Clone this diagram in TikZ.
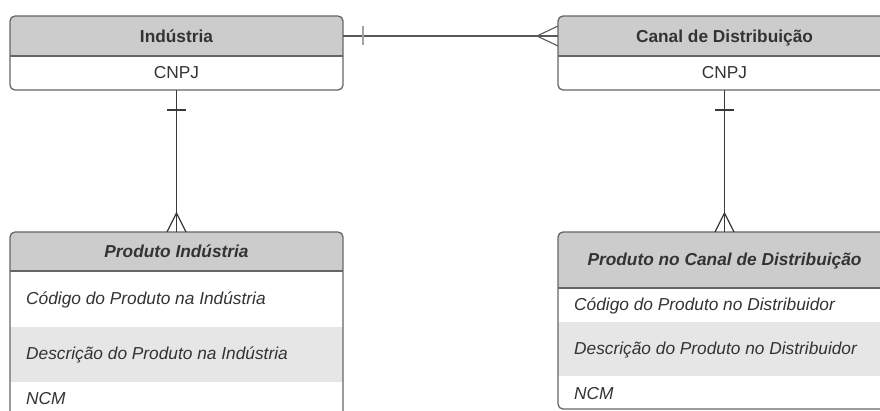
\documentclass[tikz,border=0pt]{standalone}
\usepackage{fontspec}
\setmainfont{Liberation Sans}
\usetikzlibrary{calc}
\definecolor{txt}{HTML}{333333}
\definecolor{hdrfill}{HTML}{CCCCCC}
\definecolor{stripe}{HTML}{E6E6E6}
\definecolor{frame}{HTML}{666666}
\definecolor{conn}{HTML}{3A3A3A}
\tikzset{
  boxframe/.style={draw=frame, line width=1.3pt, rounded corners=5pt, anchor=north west, inner sep=0pt, outer sep=0pt},
  hdrarea/.style={anchor=north west, inner sep=0pt, outer sep=0pt},
  lbl/.style={text=txt, inner sep=0pt, anchor=base, font=\fontsize{17.3}{20}\selectfont},
  lblb/.style={lbl, font=\fontsize{17.3}{20}\selectfont\bfseries},
  lblbi/.style={lbl, font=\fontsize{17.3}{20}\selectfont\bfseries\itshape},
  lbli/.style={lbl, anchor=base west, font=\fontsize{17.3}{20}\selectfont\itshape},
  sep/.style={draw=frame, line width=1.3pt},
  conline/.style={draw=conn, line width=1.3pt},
  hconline/.style={draw=conn!85, line width=1.1pt},
}
\begin{document}
\begin{tikzpicture}[x=1pt,y=-1pt]
\useasboundingbox (0,0) rectangle (880,410);
\fill[white] (0,0) rectangle (880,410);

% ---- fills (under the frames)
\begin{scope}
  \clip[rounded corners=5pt] (10,16) rectangle (343,90);
  \fill[hdrfill] (10,16) rectangle (343,56);
\end{scope}
\begin{scope}
  \clip[rounded corners=5pt] (558,16) rectangle (891,90);
  \fill[hdrfill] (558,16) rectangle (891,56);
\end{scope}
\begin{scope}
  \clip[rounded corners=5pt] (10,232) rectangle (343,452);
  \fill[hdrfill] (10,232) rectangle (343,271);
  \fill[stripe] (10,327) rectangle (343,382);
\end{scope}
\begin{scope}
  \clip[rounded corners=5pt] (558,232) rectangle (891,409);
  \fill[hdrfill] (558,232) rectangle (891,288);
  \fill[stripe] (558,322) rectangle (891,376);
\end{scope}

% ---- Box A: Industria
\node[boxframe, minimum width=333pt, minimum height=74pt] (A) at (10,16) {};
\node[hdrarea, minimum width=333pt, minimum height=40pt] (Ah) at (10,16) {};
\draw[sep] (10,56) -- (343,56);
\node[lblb] (At) at (176.5,42) {Indústria};
\node[lbl] (Ac) at (176.5,78.7) {CNPJ};

% ---- Box B: Canal de Distribuicao
\node[boxframe, minimum width=333pt, minimum height=74pt] (B) at (558,16) {};
\node[hdrarea, minimum width=333pt, minimum height=40pt] (Bh) at (558,16) {};
\draw[sep] (558,56) -- (891,56);
\node[lblb] (Bt) at (724.5,42) {Canal de Distribuição};
\node[lbl] (Bc) at (724.5,78.7) {CNPJ};

% ---- Box C: Produto Industria
\node[boxframe, minimum width=333pt, minimum height=220pt] (C) at (10,232) {};
\draw[sep] (10,271) -- (343,271);
\node[lblbi] (Ct) at (176.5,257) {Produto Indústria};
\node[lbli] (C1) at (26,304) {Código do Produto na Indústria};
\node[lbli] (C2) at (26,359) {Descrição do Produto na Indústria};
\node[lbli] (C3) at (26,404) {NCM};

% ---- Box D: Produto no Canal de Distribuicao
\node[boxframe, minimum width=333pt, minimum height=177pt] (D) at (558,232) {};
\draw[sep] (558,288) -- (891,288);
\node[lblbi] (Dt) at (724.5,265) {Produto no Canal de Distribuição};
\node[lbli] (D1) at (574,310) {Código do Produto no Distribuidor};
\node[lbli] (D2) at (574,354) {Descrição do Produto no Distribuidor};
\node[lbli] (D3) at (574,399) {NCM};

% ---- Connectors
% A (one) -- B (many)
\draw[hconline] (Ah.east) -- (Bh.west);
\draw[hconline, draw=frame!60] ($(Ah.east)+(20,-10)$) -- ($(Ah.east)+(20,9)$);
\draw[hconline] ($(Bh.west)+(0,-10)$) -- ($(Bh.west)+(-21,0)$) -- ($(Bh.west)+(0,10)$);

% A (one) -- C (many)
\draw[conline] (A.south) -- (C.north);
\draw[conline] ($(A.south)+(-9.5,20)$) -- ($(A.south)+(9.5,20)$);
\draw[conline] ($(C.north)+(-9.5,0)$) -- ($(C.north)+(0,-19)$) -- ($(C.north)+(9.5,0)$);

% B (one) -- D (many)
\draw[conline] (B.south) -- (D.north);
\draw[conline] ($(B.south)+(-9.5,20)$) -- ($(B.south)+(9.5,20)$);
\draw[conline] ($(D.north)+(-9.5,0)$) -- ($(D.north)+(0,-19)$) -- ($(D.north)+(9.5,0)$);
\end{tikzpicture}
\end{document}
